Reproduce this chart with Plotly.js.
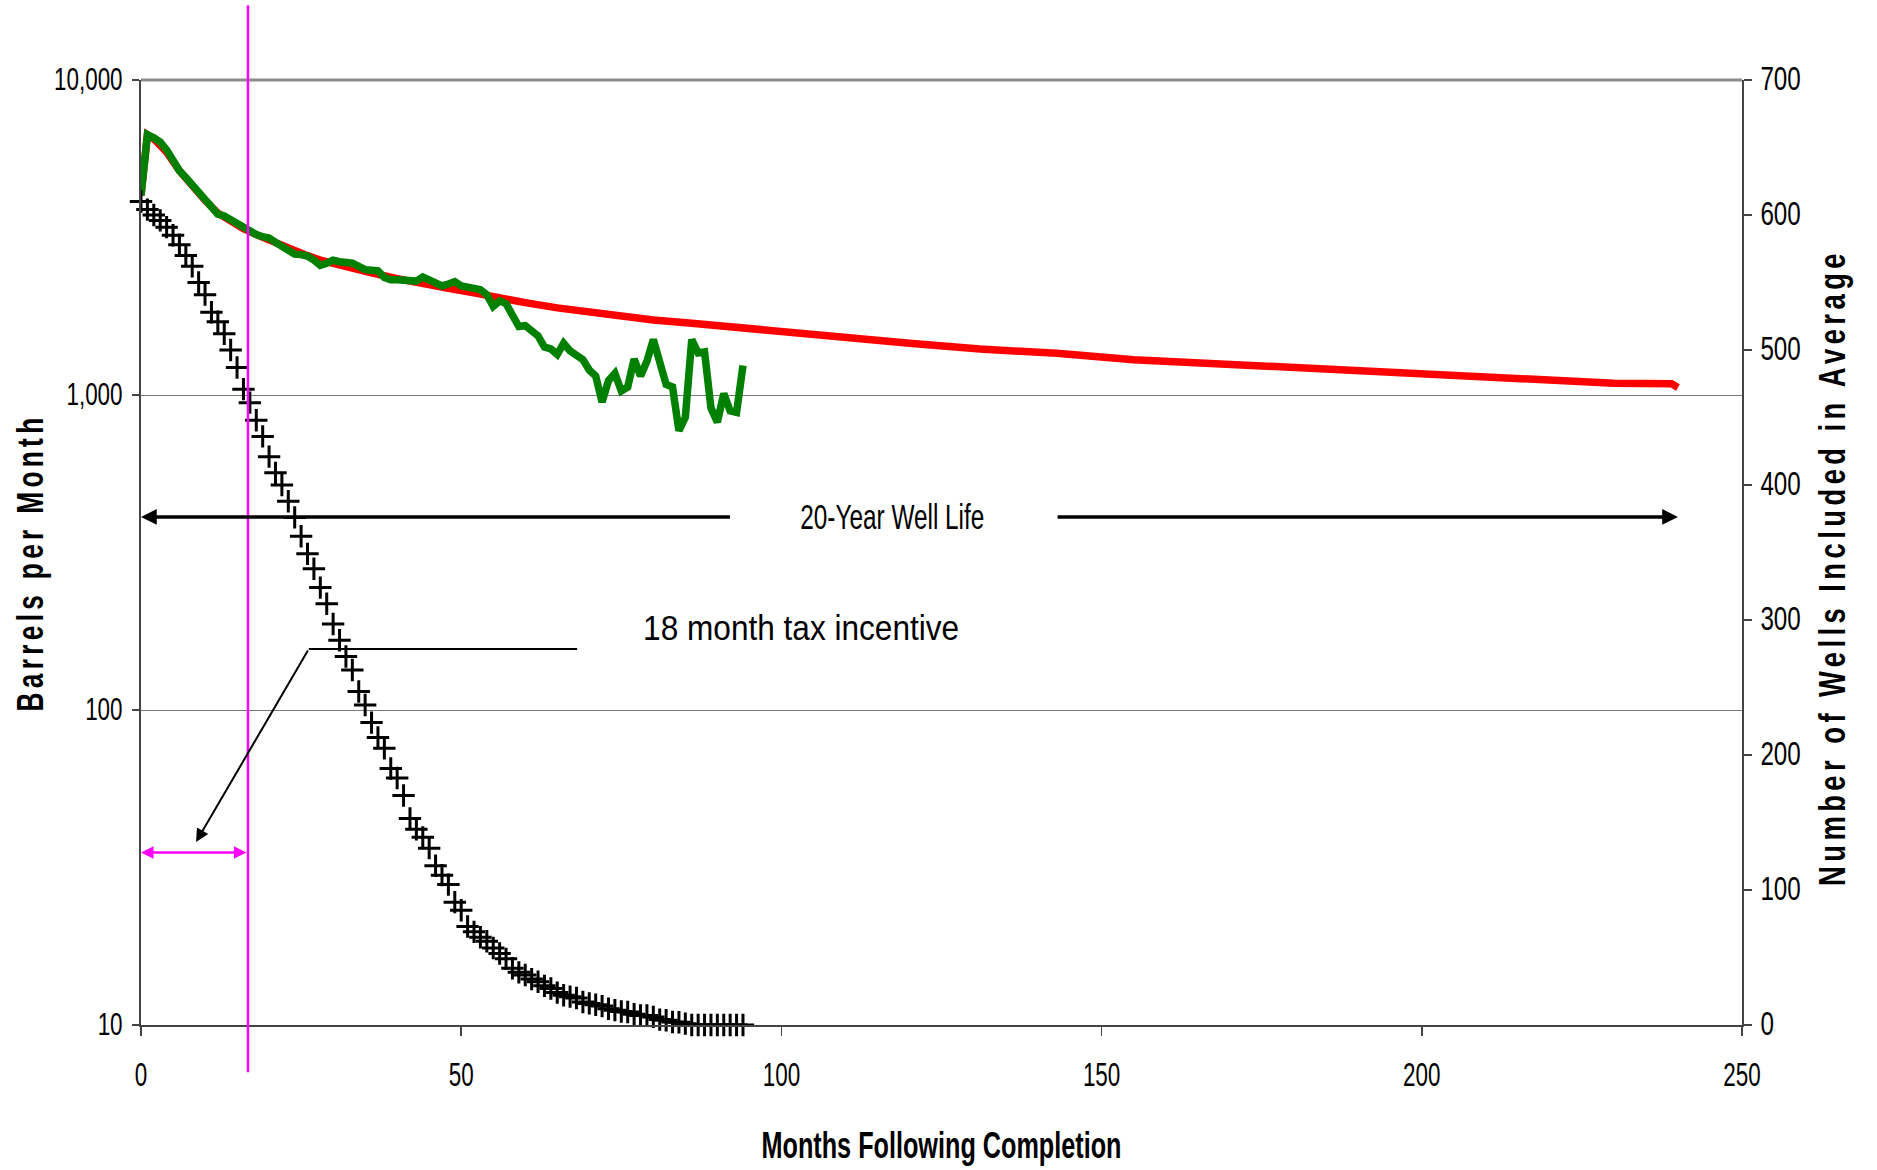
<!DOCTYPE html>
<html><head><meta charset="utf-8">
<script src="https://cdn.plot.ly/plotly-3.0.1.min.js"></script>
<style>
html,body{margin:0;padding:0;background:#fff;}
#chart{width:1877px;height:1170px;}
.ytitle,.y2title{letter-spacing:6px;}
</style></head><body><div id="chart"></div>
<script>
// ---- data ----
const wellMonths = [0,1,2,3,4,5,6,7,8,9,10,11,12,13,14,15,16,17,18,19,20,21,22,23,24,25,26,27,28,29,30,31,32,33,34,35,36,37,38,39,40,41,42,43,44,45,46,47,48,49,50,51,52,53,54,55,56,57,58,59,60,61,62,63,64,65,66,67,68,69,70,71,72,73,74,75,76,77,78,79,80,81,82,83,84,85,86,87,88,89,90,91,92,93,94];
const greenBbl = [4300,6700,6550,6350,6000,5500,5150,4900,4650,4350,4150,3950,3750,3700,3600,3480,3380,3280,3230,3180,3150,3050,2950,2880,2800,2790,2760,2680,2580,2620,2680,2650,2640,2620,2560,2500,2490,2480,2360,2320,2320,2320,2290,2300,2370,2330,2270,2220,2250,2290,2220,2210,2180,2160,2080,1910,1990,1950,1780,1650,1660,1600,1540,1420,1400,1345,1460,1380,1330,1295,1200,1150,950,1110,1170,1030,1060,1300,1150,1280,1500,1250,1080,1060,770,850,1500,1360,1370,910,820,1010,890,880,1240];
const wellCount = [610,604,600,596,591,585,578,570,562,550,541,528,521,512,500,487,471,461,448,436,421,409,400,388,376,362,349,338,324,312,297,285,273,263,247,237,224,213,205,190,183,170,153,145,139,131,118,111,104,91,85,73,69,65,62,57,53,49,42,39,37,34,32,29,27,24,22,21,20,17,16,15,14,12,11,10,9.6,8,7,7,6,4,3.5,2.2,2,1,0,0,0,0,0,0,0,0,0];
const redMonths = [0,1,2,4,6,8,10,12,14,16,18,20,22,24,26,28,30,33,36,40,44,48,52,56,60,65,70,75,80,86,95,100,107,120,131,143,155,165,172,186,201,215,230,239,240];
const redBbl = [4300,6700,6500,5900,5150,4600,4150,3780,3550,3370,3230,3100,2980,2870,2770,2680,2610,2520,2440,2340,2250,2180,2110,2030,1965,1890,1830,1775,1730,1690,1620,1600,1540,1460,1400,1356,1295,1265,1245,1200,1158,1122,1090,1085,1057];
const yTickVals = [10,100,1000,10000];
const yTickText = ['10','100','1,000','10,000'];

// annotation anchors (data units)
const wellLifeLevel = 410, wellLifeStart = 0, wellLifeEnd = 240, wellLifeGapL = 92.2, wellLifeGapR = 142.9, wellLifeTextX = 117.4;
const incentiveMonth = 16.7, incentiveArrowLevel = 35.3;
const calloutTip = [8.6, 38.1], calloutCorner = [26.2, 156.3], calloutEndX = 68.1;
const incentiveText = [103.1, 183];

const SANS = "'Liberation Sans', Arial, sans-serif";
const L = Math.log10;
// rendered lengths (px) of the condensed lettering in the reference
const textFit = {xtitle:360, ytitle:298, y2title:637, '20-Year Well Life':184, '18 month tax incentive':316};
// vertical nudge (px) of the rotated axis titles
const titleShift = {ytitle:10, y2title:15};
// tall, condensed tick lettering: final font size, width factor, vertical nudge
const tickStyle = {xtick:{size:34, scale:1.02, dy:0}, ytick:{size:31, scale:1.02, dy:2.5}, y2tick:{size:33, scale:1.1, dy:2.5}};

const traces = [
  {x: redMonths, y: redBbl, type:'scatter', mode:'lines', line:{color:'#FF0000', width:7.5}, yaxis:'y', hoverinfo:'skip'},
  {x: wellMonths, y: greenBbl, type:'scatter', mode:'lines', line:{color:'#008000', width:7.5}, yaxis:'y', hoverinfo:'skip'},
  {x: wellMonths, y: wellCount, type:'scatter', mode:'markers', yaxis:'y2', cliponaxis:false,
   marker:{symbol:'cross-thin-open', size:16, color:'#000', line:{width:3, color:'#000'}}, hoverinfo:'skip'}
];

const axisCommon = {showline:true, linecolor:'#444', linewidth:2, ticks:'outside', tickcolor:'#444', tickwidth:1.5, zeroline:false, automargin:false};
const tickFont = {family:SANS, size:22, color:'#000'};
const titleFont = {family:SANS, size:37, weight:'bold', color:'#000'};

const layout = {
  width:1877, height:1170,
  margin:{l:141, r:135, t:80, b:145, pad:0},
  paper_bgcolor:'#fff', plot_bgcolor:'#fff', showlegend:false,
  xaxis: Object.assign({}, axisCommon, {
    range:[0,250], tick0:0, dtick:50, showgrid:false, ticklen:9,
    tickfont:tickFont, ticklabelstandoff:24,
    title:{text:'Months Following Completion', font:titleFont, standoff:42}
  }),
  yaxis: Object.assign({}, axisCommon, {
    type:'log', range:[1,4], tickvals:yTickVals, ticktext:yTickText,
    showgrid:true, gridcolor:'#7a7a7a', gridwidth:1, ticklen:7,
    tickfont:tickFont, ticklabelstandoff:5,
    title:{text:'Barrels per Month', font:titleFont, standoff:0}
  }),
  yaxis2: Object.assign({}, axisCommon, {
    overlaying:'y', side:'right', range:[0,700], tick0:0, dtick:100, showgrid:false, ticklen:8,
    tickfont:tickFont, ticklabelstandoff:4,
    title:{text:'Number of Wells Included in Average', font:titleFont, standoff:23}
  }),
  shapes:[
    {type:'line', xref:'paper', yref:'paper', x0:0, x1:1, y0:1, y1:1, line:{color:'#8c8c8c', width:3}},
    {type:'line', xref:'x', yref:'paper', x0:incentiveMonth, x1:incentiveMonth, y0:-0.05, y1:1.079, line:{color:'#FF00FF', width:2.5}},
    {type:'line', xref:'x', yref:'y', x0:calloutCorner[0], x1:calloutEndX, y0:calloutCorner[1], y1:calloutCorner[1], line:{color:'#000', width:2}}
  ],
  annotations:[
    {x:wellLifeTextX, y:L(wellLifeLevel), xref:'x', yref:'y', text:'20-Year Well Life', showarrow:false,
     font:{family:SANS, size:35, color:'#000'}},
    {x:wellLifeStart, y:L(wellLifeLevel), ax:wellLifeGapL, ay:L(wellLifeLevel), xref:'x', yref:'y', axref:'x', ayref:'y',
     text:'', showarrow:true, arrowhead:2, arrowsize:0.9, arrowwidth:3.5, arrowcolor:'#000', standoff:0},
    {x:wellLifeEnd, y:L(wellLifeLevel), ax:wellLifeGapR, ay:L(wellLifeLevel), xref:'x', yref:'y', axref:'x', ayref:'y',
     text:'', showarrow:true, arrowhead:2, arrowsize:0.9, arrowwidth:3.5, arrowcolor:'#000', standoff:0},
    {x:0, y:L(incentiveArrowLevel), ax:incentiveMonth, ay:L(incentiveArrowLevel), xref:'x', yref:'y', axref:'x', ayref:'y',
     text:'', showarrow:true, arrowside:'end+start', arrowhead:2, startarrowhead:2, arrowsize:1, startarrowsize:1,
     arrowwidth:2.5, arrowcolor:'#FF00FF', standoff:0, startstandoff:0},
    {x:calloutTip[0], y:L(calloutTip[1]), ax:calloutCorner[0], ay:L(calloutCorner[1]), xref:'x', yref:'y', axref:'x', ayref:'y',
     text:'', showarrow:true, arrowhead:2, arrowsize:1.3, arrowwidth:2, arrowcolor:'#000', standoff:0},
    {x:incentiveText[0], y:L(incentiveText[1]), xref:'x', yref:'y', text:'18 month tax incentive', showarrow:false,
     font:{family:SANS, size:35, color:'#000'}}
  ]
};

function fit(el, len) {
  if (!el || !len) return;
  el.setAttribute('textLength', len);
  el.setAttribute('lengthAdjust', 'spacingAndGlyphs');
}

Plotly.newPlot('chart', traces, layout, {staticPlot:true, displayModeBar:false}).then(function(gd) {
  ['xtitle','ytitle','y2title'].forEach(function(c) {
    var el = gd.querySelector('text.' + c);
    if (!el) return;
    fit(el, textFit[c]);
    if (titleShift[c]) el.setAttribute('transform', 'translate(0,' + titleShift[c] + ') ' + (el.getAttribute('transform') || ''));
  });
  gd.querySelectorAll('text.annotation-text').forEach(function(el) { fit(el, textFit[el.textContent]); });
  Object.keys(tickStyle).forEach(function(cls) {
    var s = tickStyle[cls];
    gd.querySelectorAll('g.' + cls + ' text').forEach(function(el) {
      var w = el.getComputedTextLength();
      el.style.fontSize = s.size + 'px';
      fit(el, w * s.scale);
      if (s.dy) el.setAttribute('y', (parseFloat(el.getAttribute('y')) || 0) + s.dy);
    });
  });
});
</script></body></html>
